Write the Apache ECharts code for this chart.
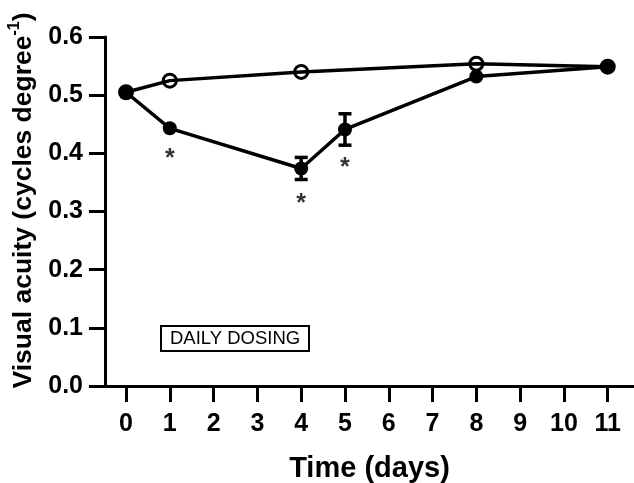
<!DOCTYPE html>
<html>
<head>
<meta charset="utf-8">
<script src="https://cdn.jsdelivr.net/npm/echarts@6/dist/echarts.min.js"></script>
<style>
  html, body { margin: 0; padding: 0; background: #fff; }
  #chart { width: 634px; height: 483px; }
</style>
</head>
<body>
<div id="chart"></div>
<script>
// ---- data ----
const xTicks = [0, 1, 2, 3, 4, 5, 6, 7, 8, 9, 10, 11];
const yTicks = [0, 0.1, 0.2, 0.3, 0.4, 0.5, 0.6];
const controlDays = [0, 1, 4, 8, 11];
const controlValues = [0.505, 0.525, 0.540, 0.554, 0.549];
const dosedDays = [0, 1, 4, 5, 8, 11];
const dosedValues = [0.505, 0.443, 0.374, 0.441, 0.532, 0.549];
const dosedErrors = [0, 0, 0.019, 0.027, 0, 0];
const starDays = [1, 4, 5];
const starValues = [0.398, 0.321, 0.383];
const boxLabel = 'DAILY DOSING';
const xTitle = 'Time (days)';
const yTitle = 'Visual acuity (cycles degree';
const yTitleSup = '-1';

const FONT = "'Liberation Sans', Arial, Helvetica, sans-serif";

const controlData = controlDays.map((d, i) => [d, controlValues[i]]);
const dosedData = dosedDays.map((d, i) => [d, dosedValues[i]]);
const errData = dosedDays.map((d, i) => [d, dosedValues[i] - dosedErrors[i], dosedValues[i] + dosedErrors[i]])
  .filter((r, i) => dosedErrors[i] > 0);
const starData = starDays.map((d, i) => [d, starValues[i]]);

const chart = echarts.init(document.getElementById('chart'), null, { renderer: 'canvas' });

chart.setOption({
  animation: false,
  backgroundColor: '#fff',
  textStyle: { fontFamily: FONT },
  grid: { left: 105, right: 0, top: 37, bottom: 97, containLabel: false, outerBoundsMode: 'none' },
  title: {
    text: boxLabel,
    left: 161, top: 326,
    borderColor: '#000', borderWidth: 2,
    padding: [3, 9, 3, 9],
    textStyle: { fontFamily: FONT, fontSize: 18.5, fontWeight: 'normal', color: '#000', lineHeight: 19 }
  },
  xAxis: {
    type: 'value',
    min: -0.48, max: 11.6,
    name: xTitle,
    nameLocation: 'middle',
    nameGap: 68,
    nameTextStyle: { fontFamily: FONT, fontSize: 29, fontWeight: 'bold', color: '#000' },
    axisLine: { show: true, onZero: false, lineStyle: { color: '#000', width: 3 } },
    axisTick: { show: true, length: 16, lineStyle: { color: '#000', width: 3 }, customValues: xTicks },
    axisLabel: { margin: 26, fontFamily: FONT, fontSize: 25, fontWeight: 'bold', color: '#000', customValues: xTicks },
    splitLine: { show: false }
  },
  yAxis: {
    type: 'value',
    min: 0, max: 0.6, interval: 0.1,
    name: '{t|' + yTitle + '}{s|' + yTitleSup + '}{t|)}',
    nameLocation: 'middle',
    nameGap: 64,
    nameTextStyle: {
      color: '#000',
      padding: [0, 0, 0, 22],
      rich: {
        t: { fontFamily: FONT, fontSize: 26.5, fontWeight: 'bold', color: '#000', lineHeight: 31, verticalAlign: 'bottom' },
        s: { fontFamily: FONT, fontSize: 16, fontWeight: 'bold', color: '#000', verticalAlign: 'top' }
      }
    },
    axisLine: { show: true, onZero: false, lineStyle: { color: '#000', width: 3 } },
    axisTick: { show: true, length: 16, lineStyle: { color: '#000', width: 3 } },
    axisLabel: {
      margin: 22, fontFamily: FONT, fontSize: 25, fontWeight: 'bold', color: '#000',
      formatter: v => v.toFixed(1)
    },
    splitLine: { show: false }
  },
  series: [
    {
      type: 'line',
      name: 'control',
      data: controlData,
      symbol: 'circle',
      symbolSize: 13,
      lineStyle: { color: '#000', width: 3.5 },
      itemStyle: { color: 'rgba(255,255,255,0)', borderColor: '#000', borderWidth: 3 },
      z: 2
    },
    {
      type: 'custom',
      name: 'errors',
      data: errData,
      renderItem: function (params, api) {
        const x = api.value(0);
        const lo = api.coord([x, api.value(1)]);
        const hi = api.coord([x, api.value(2)]);
        const hw = 6.5;
        const st = { stroke: '#000', lineWidth: 3.5 };
        return {
          type: 'group',
          children: [
            { type: 'line', shape: { x1: lo[0], y1: lo[1], x2: hi[0], y2: hi[1] }, style: st },
            { type: 'line', shape: { x1: lo[0] - hw, y1: lo[1], x2: lo[0] + hw, y2: lo[1] }, style: st },
            { type: 'line', shape: { x1: hi[0] - hw, y1: hi[1], x2: hi[0] + hw, y2: hi[1] }, style: st }
          ]
        };
      },
      z: 3
    },
    {
      type: 'line',
      name: 'daily dosing',
      data: dosedData,
      symbol: 'circle',
      symbolSize: 14,
      lineStyle: { color: '#000', width: 3.5 },
      itemStyle: { color: '#000', borderColor: '#000', borderWidth: 0 },
      z: 4
    },
    {
      type: 'scatter',
      name: 'significance',
      data: starData,
      symbol: 'circle',
      symbolSize: 1,
      itemStyle: { color: 'rgba(0,0,0,0)' },
      label: {
        show: true, position: 'inside', formatter: '*',
        fontFamily: FONT, fontSize: 25, fontWeight: 'bold', color: '#000', offset: [0, 5]
      },
      z: 5
    }
  ]
});
</script>
</body>
</html>
